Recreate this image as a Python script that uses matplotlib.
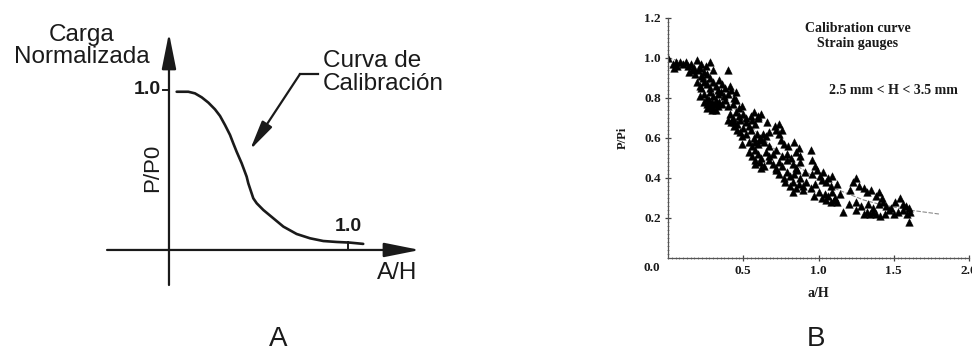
import numpy as np
import matplotlib
matplotlib.use("Agg")
import matplotlib.pyplot as plt
from matplotlib.ticker import MultipleLocator

# ---- Panel A: schematic calibration curve ----
curve_a_x = [0.043, 0.108, 0.145, 0.183, 0.220, 0.257, 0.285, 0.313, 0.341,
             0.359, 0.378, 0.406, 0.434, 0.443, 0.471, 0.490, 0.527, 0.583,
             0.639, 0.713, 0.788, 0.862, 0.937, 1.011, 1.085]
curve_a_y = [0.989, 0.989, 0.979, 0.954, 0.921, 0.879, 0.838, 0.781, 0.719,
             0.667, 0.614, 0.542, 0.458, 0.417, 0.323, 0.292, 0.250, 0.198,
             0.146, 0.100, 0.073, 0.056, 0.050, 0.046, 0.038]

# ---- Panel B: measured points (a/H, P/Pi) ----
scatter_ah = [
    0.00, 0.03, 0.05, 0.06, 0.08, 0.10, 0.12, 0.13, 0.15, 0.19, 0.21, 0.25, 0.28, 0.22, 0.17, 0.04,
    0.14, 0.18, 0.20, 0.22, 0.24, 0.26, 0.28, 0.30, 0.40, 0.16, 0.23,
    0.19, 0.21, 0.24, 0.26, 0.28, 0.30, 0.32, 0.34, 0.36, 0.38, 0.41, 0.22, 0.33,
    0.21, 0.24, 0.26, 0.28, 0.30, 0.33, 0.35, 0.37, 0.40, 0.42, 0.44, 0.45,
    0.24, 0.26, 0.27, 0.28, 0.29, 0.30, 0.31, 0.32, 0.33, 0.34, 0.36, 0.38, 0.40, 0.43, 0.45, 0.47, 0.49, 0.26, 0.29, 0.32,
    0.41, 0.43, 0.45, 0.47, 0.50, 0.52, 0.55, 0.57, 0.60, 0.62, 0.40, 0.44,
    0.42, 0.44, 0.46, 0.48, 0.50, 0.52, 0.54, 0.56, 0.58, 0.60, 0.66, 0.71, 0.74, 0.46, 0.48,
    0.49, 0.52, 0.55, 0.57, 0.59, 0.61, 0.63, 0.65, 0.67, 0.72, 0.74, 0.76,
    0.49, 0.54, 0.56, 0.58, 0.60, 0.62, 0.64, 0.67, 0.75, 0.77, 0.80, 0.84, 0.87,
    0.54, 0.56, 0.58, 0.60, 0.62, 0.65, 0.67, 0.70, 0.72, 0.76, 0.79, 0.82, 0.85, 0.88, 0.95, 0.58,
    0.58, 0.61, 0.64, 0.67, 0.70, 0.72, 0.74, 0.76, 0.79, 0.83, 0.85, 0.88, 0.96, 0.98, 0.62, 0.72,
    0.74, 0.77, 0.79, 0.81, 0.84, 0.86, 0.88, 0.91, 0.96, 0.99, 1.01, 1.03, 1.06, 1.02, 1.09,
    0.78, 0.81, 0.83, 0.85, 0.87, 0.90, 0.92, 0.95, 0.98, 1.05, 1.08, 1.12, 1.23, 1.25, 1.27, 1.30,
    0.83, 0.90, 0.97, 1.00, 1.02, 1.04, 1.06, 1.09, 1.11, 1.14, 1.21, 1.32, 1.35, 1.38, 1.40, 1.42,
    1.05, 1.08, 1.10, 1.12, 1.20, 1.25, 1.28, 1.33, 1.36, 1.40, 1.43, 1.45, 1.48, 1.51, 1.54, 1.56, 1.58, 1.60,
    1.16, 1.25, 1.30, 1.32, 1.34, 1.36, 1.38, 1.41, 1.44, 1.47, 1.50, 1.53, 1.56, 1.59, 1.61, 1.60,
]
scatter_ppi = [
    1.00, 0.97, 0.98, 0.96, 0.98, 0.97, 0.98, 0.96, 0.97, 0.99, 0.95, 0.96, 0.98, 0.97, 0.95, 0.95,
    0.93, 0.92, 0.94, 0.91, 0.93, 0.92, 0.90, 0.94, 0.94, 0.94, 0.90,
    0.88, 0.86, 0.88, 0.87, 0.85, 0.88, 0.86, 0.89, 0.87, 0.85, 0.86, 0.85, 0.84,
    0.81, 0.82, 0.80, 0.83, 0.81, 0.82, 0.83, 0.81, 0.82, 0.84, 0.80, 0.83,
    0.78, 0.77, 0.79, 0.76, 0.78, 0.75, 0.77, 0.79, 0.76, 0.78, 0.77, 0.79, 0.76, 0.77, 0.79, 0.75, 0.76, 0.75, 0.74, 0.74,
    0.72, 0.70, 0.73, 0.71, 0.72, 0.70, 0.71, 0.73, 0.71, 0.72, 0.69, 0.68,
    0.68, 0.66, 0.67, 0.69, 0.65, 0.68, 0.66, 0.69, 0.67, 0.70, 0.68, 0.66, 0.67, 0.64, 0.63,
    0.61, 0.62, 0.64, 0.60, 0.62, 0.60, 0.62, 0.61, 0.63, 0.64, 0.62, 0.64,
    0.57, 0.58, 0.56, 0.58, 0.57, 0.59, 0.58, 0.56, 0.59, 0.57, 0.56, 0.58, 0.55,
    0.53, 0.51, 0.54, 0.52, 0.50, 0.53, 0.51, 0.52, 0.54, 0.51, 0.52, 0.50, 0.53, 0.51, 0.54, 0.49,
    0.47, 0.48, 0.46, 0.49, 0.47, 0.45, 0.48, 0.46, 0.49, 0.47, 0.45, 0.48, 0.49, 0.46, 0.45, 0.44,
    0.42, 0.40, 0.43, 0.41, 0.42, 0.44, 0.40, 0.43, 0.42, 0.44, 0.41, 0.43, 0.40, 0.39, 0.41,
    0.38, 0.36, 0.38, 0.35, 0.37, 0.36, 0.38, 0.35, 0.37, 0.38, 0.36, 0.37, 0.38, 0.40, 0.36, 0.35,
    0.33, 0.34, 0.31, 0.33, 0.30, 0.32, 0.31, 0.33, 0.30, 0.32, 0.34, 0.33, 0.34, 0.31, 0.33, 0.30,
    0.29, 0.28, 0.29, 0.28, 0.27, 0.28, 0.26, 0.27, 0.25, 0.27, 0.28, 0.26, 0.25, 0.28, 0.30, 0.27, 0.26, 0.25,
    0.23, 0.24, 0.22, 0.23, 0.22, 0.23, 0.22, 0.21, 0.22, 0.24, 0.22, 0.23, 0.24, 0.22, 0.23, 0.18,
]

# fitted calibration curve (thin grey line)
fit_ah = [0.0, 0.1, 0.2, 0.3, 0.4, 0.5, 0.6, 0.7, 0.8, 0.9, 1.0, 1.1, 1.2, 1.3, 1.4, 1.5, 1.6, 1.7, 1.8]
fit_ppi = [1.0, 0.98, 0.93, 0.86, 0.78, 0.70, 0.62, 0.55, 0.49, 0.44, 0.39, 0.35, 0.32,
           0.29, 0.27, 0.255, 0.24, 0.23, 0.22]

sans = ["Liberation Sans", "DejaVu Sans"]
serif = ["Liberation Serif", "DejaVu Serif"]
ink = "#1a1a1a"

fig = plt.figure(figsize=(9.72, 3.53), dpi=100)
fig.patch.set_facecolor("white")

# ---------------- Panel A ----------------
axA = fig.add_axes([0, 0, 0.5, 1])
axA.set_xlim(-0.944, 1.771)
axA.set_ylim(-0.644, 1.5625)
axA.axis("off")

arrow_kw = dict(arrowstyle="-|>,head_length=1.1,head_width=0.22", lw=1.6,
                color=ink, mutation_scale=20, shrinkA=0, shrinkB=0)
axA.annotate("", xy=(0, 1.356), xytext=(0, -0.219), arrowprops=arrow_kw)
axA.annotate("", xy=(1.402, 0), xytext=(-0.346, 0), arrowprops=arrow_kw)

axA.plot(curve_a_x, curve_a_y, color=ink, lw=1.9, solid_capstyle="round",
         solid_joinstyle="round")

# ticks at 1.0
axA.plot([-0.035, 0], [1.0, 1.0], color=ink, lw=1.4)
axA.plot([1.0, 1.0], [0, 0.05], color=ink, lw=1.4)

axA.text(-0.045, 1.0, "1.0", ha="right", va="center", fontsize=14,
         fontweight="bold", family=sans, color=ink)
axA.text(1.0, 0.145, "1.0", ha="center", va="center", fontsize=14,
         fontweight="bold", family=sans, color=ink)
axA.text(-0.089, 0.5125, "P/P0", ha="center", va="center", rotation=90,
         fontsize=16, family=sans, color=ink)
axA.text(1.274, -0.144, "A/H", ha="center", va="center", fontsize=17.5,
         family=sans, color=ink)
axA.text(-0.486, 1.275, "Carga\nNormalizada", ha="center", va="center",
         multialignment="center", fontsize=17.5, family=sans, color=ink,
         linespacing=1.05)
axA.text(0.86, 1.109, "Curva de\nCalibración", ha="left", va="center",
         multialignment="left", fontsize=17.5, family=sans, color=ink,
         linespacing=1.05)

# leader arrow to the curve
axA.plot([0.832, 0.732], [1.10, 1.10], color=ink, lw=1.6)
axA.annotate("", xy=(0.4525, 0.625), xytext=(0.732, 1.10),
             arrowprops=dict(arrowstyle="-|>,head_length=1.0,head_width=0.2",
                             lw=1.6, color=ink, mutation_scale=18,
                             shrinkA=0, shrinkB=0))

fig.text(0.286, 0.04, "A", ha="center", va="center", fontsize=20,
         family=sans, color=ink)

# ---------------- Panel B ----------------
axB = fig.add_axes([668 / 972, 1 - 258 / 353, 301 / 972, 240 / 353])
axB.set_xlim(0, 2.0)
axB.set_ylim(0, 1.2)
for side in ["top", "right"]:
    axB.spines[side].set_visible(False)
for side in ["left", "bottom"]:
    axB.spines[side].set_color("#555555")
    axB.spines[side].set_linewidth(0.9)
    axB.spines[side].set_linestyle((0, (4, 1)))

axB.plot(fit_ah, fit_ppi, color="#8a8a8a", lw=0.8, ls=(0, (4, 1.5)), zorder=1)
axB.scatter(scatter_ah, scatter_ppi, marker="^", s=30, color="black",
            edgecolors="black", linewidths=0.3, zorder=2)

axB.set_yticks([0.2, 0.4, 0.6, 0.8, 1.0, 1.2])
axB.set_yticklabels(["0.2", "0.4", "0.6", "0.8", "1.0", "1.2"])
axB.set_xticks([0.5, 1.0, 1.5, 2.0])
axB.set_xticklabels(["0.5", "1.0", "1.5", "2.0"])
axB.yaxis.set_minor_locator(MultipleLocator(0.02))
axB.xaxis.set_minor_locator(MultipleLocator(0.025))
axB.tick_params(axis="both", which="major", length=4, width=0.9,
                color="#444444", direction="inout", labelsize=9.5, pad=3,
                labelcolor=ink)
axB.tick_params(axis="both", which="minor", length=2, width=0.6,
                color="#777777", direction="inout")
for lab in axB.get_xticklabels() + axB.get_yticklabels():
    lab.set_family(serif)
    lab.set_fontweight("bold")

axB.text(-0.106, -0.05, "0.0", ha="center", va="center", fontsize=9.5,
         fontweight="bold", family=serif, color=ink)

axB.set_ylabel("P/Pi", fontsize=9, family=serif, fontweight="bold", color=ink)
axB.yaxis.set_label_coords(-0.13, 0.5)
axB.set_xlabel("a/H", fontsize=10, family=serif, fontweight="bold", color=ink)
axB.xaxis.set_label_coords(0.498, -0.121)

axB.text(1.262, 1.15, "Calibration curve", ha="center", va="center",
         fontsize=10, fontweight="bold", family=serif, color=ink)
axB.text(1.262, 1.075, "Strain gauges", ha="center", va="center",
         fontsize=10, fontweight="bold", family=serif, color=ink)
axB.text(1.50, 0.84, "2.5 mm < H < 3.5 mm", ha="center", va="center",
         fontsize=10, fontweight="bold", family=serif, color=ink)

fig.text(816 / 972, 0.04, "B", ha="center", va="center", fontsize=20,
         family=sans, color=ink)

fig.savefig("out.png", dpi=100, facecolor="white")
plt.close(fig)
